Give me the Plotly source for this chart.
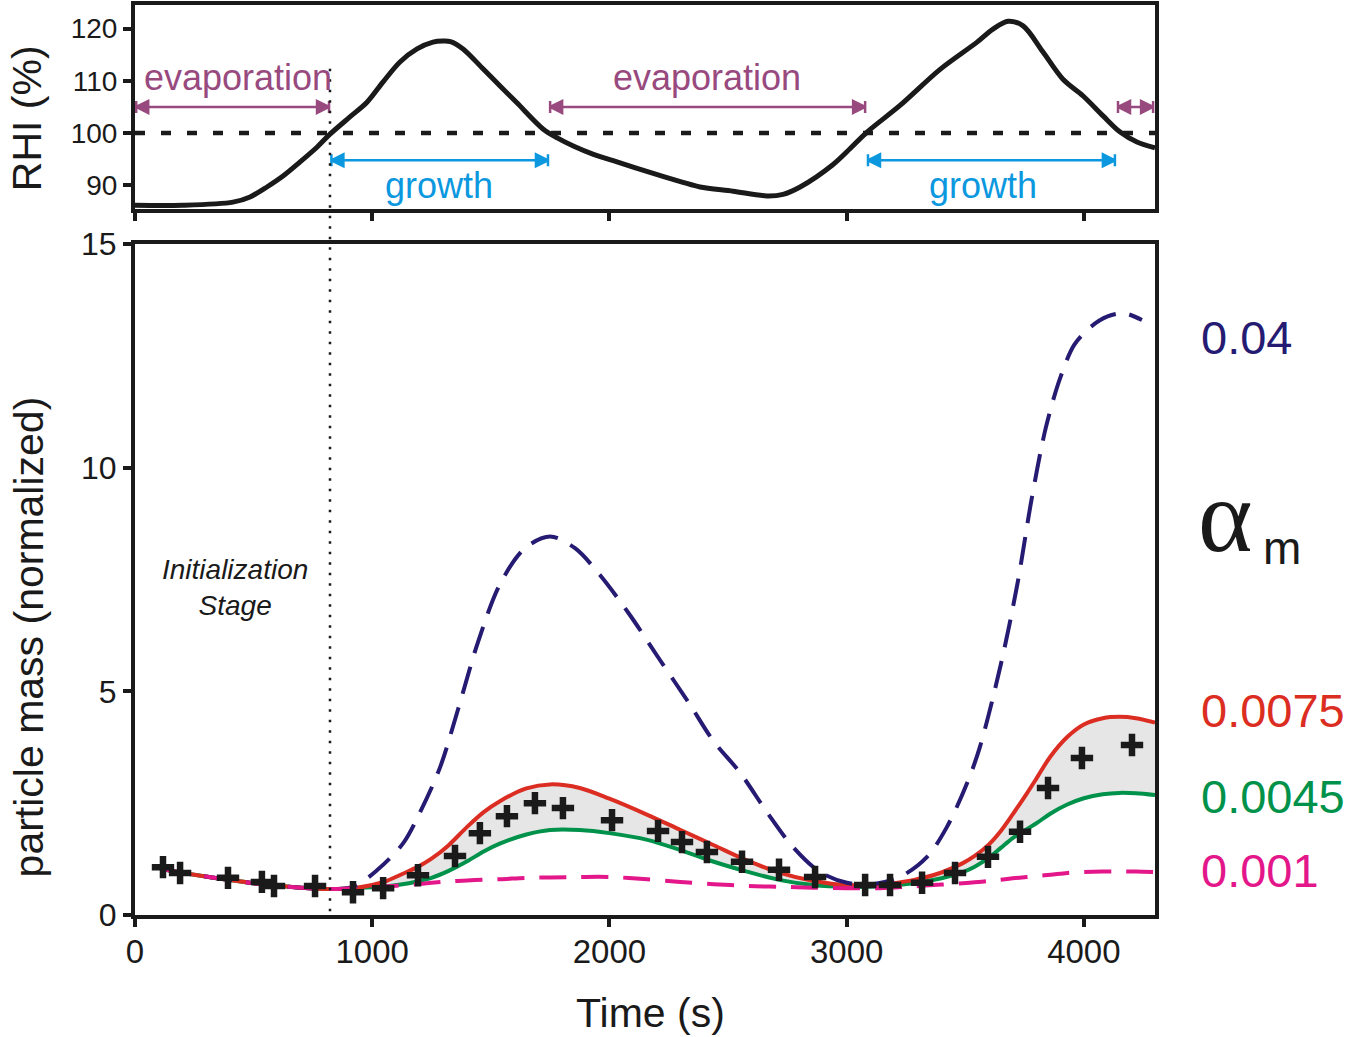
import plotly.graph_objects as go

# ---------------- top panel: relative humidity over ice ----------------
rhi_time = [0, 200, 413, 485, 556, 624, 696, 767, 822, 906, 978, 1046, 1117, 1189,
            1256, 1298, 1330, 1383, 1467, 1539, 1610, 1720, 1780, 1850, 1930, 2032,
            2171, 2310, 2382, 2521, 2664, 2732, 2804, 2943, 3014, 3086, 3225, 3394,
            3550, 3617, 3681, 3744, 3828, 3912, 3997, 4081, 4153, 4224, 4300]
rhi_pct = [86.2, 86.2, 86.8, 87.8, 89.7, 91.8, 94.5, 97.3, 99.8, 103.1, 105.9, 109.8,
           113.6, 116.1, 117.4, 117.6, 117.5, 116.1, 112.3, 109.0, 105.8, 100.8, 99.1,
           97.5, 96.0, 94.5, 92.5, 90.6, 89.7, 88.9, 88.0, 88.3, 89.7, 94.0, 97.0,
           100.2, 105.3, 112.2, 117.4, 119.9, 121.4, 120.5, 115.5, 110.3, 107.1, 103.3,
           100.2, 98.3, 97.2]

evap_spans = [[5, 818], [1750, 3078], [4144, 4292]]
growth_spans = [[828, 1741], [3090, 4131]]
evap_label_x = [434, 2411]
growth_label_x = [1282, 3575]

# ---------------- bottom panel: normalized particle mass ----------------
model_time = [118, 250, 400, 550, 700, 820, 920, 1000, 1060, 1120, 1190, 1250, 1320,
              1400, 1470, 1540, 1650, 1750, 1875, 2000, 2160, 2300, 2440, 2580, 2720,
              2860, 3000, 3140, 3280, 3400, 3490, 3540, 3600, 3650, 3700, 3760, 3800,
              3860, 3930, 4000, 4080, 4150, 4220, 4300]
mass_a0075 = [1.02, 0.9, 0.78, 0.68, 0.61, 0.58, 0.6, 0.67, 0.76, 0.9, 1.07, 1.26,
              1.55, 1.97, 2.3, 2.55, 2.83, 2.92, 2.84, 2.6, 2.24, 1.9, 1.56, 1.22, 0.94,
              0.76, 0.67, 0.68, 0.78, 0.95, 1.16, 1.32, 1.58, 1.88, 2.25, 2.72, 3.05,
              3.55, 3.98, 4.26, 4.4, 4.43, 4.4, 4.3]
mass_a0045 = [1.02, 0.9, 0.78, 0.68, 0.61, 0.58, 0.6, 0.62, 0.64, 0.68, 0.75, 0.83,
              0.98, 1.2, 1.42, 1.6, 1.8, 1.9, 1.9, 1.83, 1.68, 1.45, 1.19, 0.97, 0.78,
              0.67, 0.63, 0.64, 0.71, 0.82, 0.96, 1.08, 1.28, 1.5, 1.72, 1.92, 2.05,
              2.27, 2.47, 2.61, 2.7, 2.73, 2.72, 2.68]
mass_a0010 = [1.02, 0.9, 0.78, 0.68, 0.61, 0.58, 0.6, 0.62, 0.64, 0.66, 0.69, 0.72,
              0.75, 0.77, 0.79, 0.8, 0.83, 0.84, 0.85, 0.85, 0.8, 0.74, 0.69, 0.65, 0.63,
              0.61, 0.6, 0.6, 0.64, 0.68, 0.71, 0.73, 0.76, 0.79, 0.82, 0.85, 0.87,
              0.9, 0.94, 0.96, 0.97, 0.97, 0.97, 0.96]

navy_time = [118, 250, 400, 550, 700, 820, 920, 1020, 1130, 1202, 1286, 1362, 1446,
             1539, 1644, 1750, 1855, 1960, 2087, 2213, 2340, 2437, 2551, 2664, 2774,
             2888, 3001, 3111, 3225, 3339, 3423, 3508, 3562, 3650, 3720, 3780, 3840,
             3900, 3960, 4030, 4100, 4170, 4245]
mass_a040 = [1.02, 0.9, 0.78, 0.68, 0.61, 0.58, 0.63, 1.0, 1.6, 2.3, 3.3, 4.6, 6.1,
             7.4, 8.2, 8.46, 8.2, 7.6, 6.7, 5.7, 4.7, 3.9, 3.18, 2.3, 1.52, 0.96, 0.72,
             0.69, 0.85, 1.3, 1.97, 2.95, 3.76, 5.6, 7.4, 9.3, 10.9, 12.0, 12.75, 13.15,
             13.38, 13.45, 13.3]

obs_time = [118, 190, 392, 535, 586, 759, 919, 1046, 1193, 1349, 1454, 1568, 1686,
            1804, 2011, 2205, 2306, 2411, 2559, 2715, 2867, 3078, 3183, 3318, 3457,
            3596, 3731, 3849, 3992, 4203]
obs_mass = [1.07, 0.94, 0.83, 0.74, 0.65, 0.65, 0.51, 0.6, 0.89, 1.32, 1.83, 2.21, 2.5,
            2.39, 2.12, 1.88, 1.63, 1.41, 1.19, 1.01, 0.85, 0.67, 0.67, 0.72, 0.94,
            1.3, 1.86, 2.84, 3.51, 3.8]

alpha_labels = ["0.04", "0.0075", "0.0045", "0.001"]
alpha_label_y = [12.9, 4.58, 2.64, 1.0]

init_time = 822

NAVY = "#261B72"
RED = "#DC2D22"
GREEN = "#00924A"
MAGENTA = "#E3168A"
PURPLE = "#984A7F"
BLUE = "#0C98DF"
BLACK = "#1A1A1A"
FONT = "Liberation Sans, Arial, sans-serif"
SMOOTH = 0.9

fig = go.Figure()

# RHI curve
fig.add_trace(go.Scatter(x=rhi_time, y=rhi_pct, xaxis="x2", yaxis="y2", mode="lines",
                         line=dict(color=BLACK, width=5, shape="spline", smoothing=SMOOTH),
                         showlegend=False, hoverinfo="skip"))

# evaporation / growth range arrows
def range_arrow(span, yval, color):
    fig.add_trace(go.Scatter(
        x=span, y=[yval, yval], xaxis="x2", yaxis="y2", mode="lines+markers",
        line=dict(color=color, width=2.5),
        marker=dict(symbol=["arrow-bar-left", "arrow-bar-right"], size=12, color=color,
                    line=dict(color=color, width=2.5)),
        showlegend=False, hoverinfo="skip", cliponaxis=False))

for s in evap_spans:
    range_arrow(s, 105.0, PURPLE)
for s in growth_spans:
    range_arrow(s, 94.8, BLUE)

# particle mass: shaded band between 0.0045 and 0.0075
fig.add_trace(go.Scatter(x=model_time, y=mass_a0045, mode="lines",
                         line=dict(color=GREEN, width=4, shape="spline", smoothing=SMOOTH),
                         showlegend=False, hoverinfo="skip"))
fig.add_trace(go.Scatter(x=model_time, y=mass_a0075, mode="lines", fill="tonexty",
                         fillcolor="#E6E6E6",
                         line=dict(color=RED, width=4, shape="spline", smoothing=SMOOTH),
                         showlegend=False, hoverinfo="skip"))
fig.add_trace(go.Scatter(x=navy_time, y=mass_a040, mode="lines",
                         line=dict(color=NAVY, width=4, dash="28px,14px",
                                   shape="spline", smoothing=SMOOTH),
                         showlegend=False, hoverinfo="skip"))
fig.add_trace(go.Scatter(x=model_time, y=mass_a0010, mode="lines",
                         line=dict(color=MAGENTA, width=4, dash="27px,15px",
                                   shape="spline", smoothing=SMOOTH),
                         showlegend=False, hoverinfo="skip"))
fig.add_trace(go.Scatter(x=obs_time, y=obs_mass, mode="markers",
                         marker=dict(symbol="cross-thin", size=16,
                                     line=dict(color=BLACK, width=6.5)),
                         showlegend=False, hoverinfo="skip"))

axis_common = dict(showgrid=False, zeroline=False, showline=True, mirror=True,
                   linecolor=BLACK, linewidth=4, ticks="outside", ticklen=8,
                   tickwidth=4, tickcolor=BLACK, automargin=False)

fig.update_layout(
    template="none",
    width=1353, height=1037,
    margin=dict(l=135, r=198, t=5, b=122, pad=0),
    paper_bgcolor="white", plot_bgcolor="white",
    font=dict(family=FONT, color=BLACK),
    showlegend=False,
    xaxis=dict(domain=[0, 1], anchor="y", range=[0, 4300], tickvals=[0, 1000, 2000, 3000, 4000],
               ticklabelstandoff=-4,
               tickfont=dict(size=33, family=FONT, color=BLACK), **axis_common),
    yaxis=dict(domain=[0, 0.7374], anchor="x", range=[0, 15], tickvals=[0, 5, 10, 15],
               tickfont=dict(size=32, family=FONT, color=BLACK), **axis_common),
    xaxis2=dict(domain=[0, 1], anchor="y2", range=[0, 4300], tickvals=[0, 1000, 2000, 3000, 4000],
                showticklabels=False, **axis_common),
    yaxis2=dict(domain=[0.7753, 1], anchor="x2", range=[85.4, 124.5],
                tickvals=[90, 100, 110, 120],
                tickfont=dict(size=28, family=FONT, color=BLACK), **axis_common),
)

# 100 % saturation line and end of initialization stage
fig.add_shape(type="line", xref="x2", yref="y2", x0=0, x1=4300, y0=100, y1=100,
              line=dict(color=BLACK, width=4.5, dash="10px,16px"), layer="below")
fig.add_shape(type="line", xref="x", yref="paper", x0=init_time, x1=init_time,
              y0=0.004, y1=0.932, line=dict(color=BLACK, width=2.5, dash="2.5px,8px"))

ann = []
for xv in evap_label_x:
    ann.append(dict(x=xv, y=110.6, xref="x2", yref="y2", text="evaporation", showarrow=False,
                    font=dict(size=36, color=PURPLE, family=FONT)))
for xv in growth_label_x:
    ann.append(dict(x=xv, y=89.9, xref="x2", yref="y2", text="growth", showarrow=False,
                    font=dict(size=36, color=BLUE, family=FONT)))

ann.append(dict(x=422, y=7.31, xref="x", yref="y", text="<i>Initialization<br>Stage</i>",
                showarrow=False, font=dict(size=28, color=BLACK, family=FONT)))

colors = [NAVY, RED, GREEN, MAGENTA]
for txt, yv, c in zip(alpha_labels, alpha_label_y, colors):
    ann.append(dict(x=1.043, y=yv, xref="paper", yref="y", text=txt, showarrow=False,
                    xanchor="left", yanchor="middle", font=dict(size=47, color=c, family=FONT)))
ann.append(dict(x=1.04, y=8.94, xref="paper", yref="y", text="α", showarrow=False,
                xanchor="left", yanchor="middle",
                font=dict(size=104, color=BLACK, family="Liberation Serif, Times New Roman, serif")))
ann.append(dict(x=1.104, y=8.2, xref="paper", yref="y", text="m", showarrow=False,
                xanchor="left", yanchor="middle", font=dict(size=46, color=BLACK, family=FONT)))

# axis titles
ann.append(dict(x=0.505, y=-0.1077, xref="paper", yref="paper", text="Time (s)",
                showarrow=False, xanchor="center", yanchor="middle",
                font=dict(size=41, color=BLACK, family=FONT)))
ann.append(dict(x=-0.1035, y=0.3055, xref="paper", yref="paper",
                text="particle mass (normalized)", textangle=-90, showarrow=False,
                xanchor="center", yanchor="middle", font=dict(size=41, color=BLACK, family=FONT)))
ann.append(dict(x=-0.1065, y=0.876, xref="paper", yref="paper", text="RHI (%)",
                textangle=-90, showarrow=False, xanchor="center", yanchor="middle",
                font=dict(size=41, color=BLACK, family=FONT)))

fig.update_layout(annotations=ann)

fig.write_html("out.html")
